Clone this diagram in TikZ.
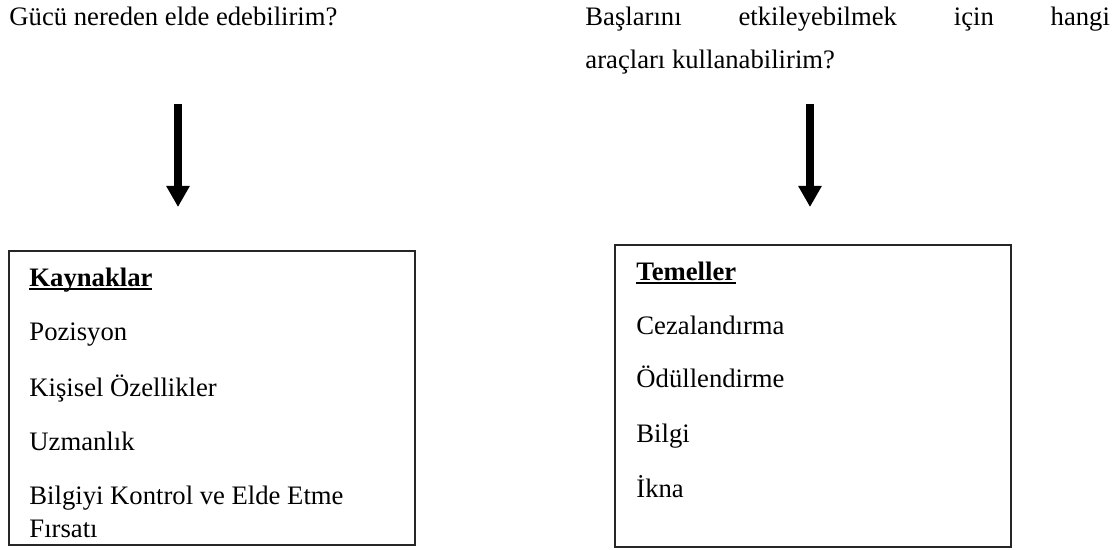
\documentclass[tikz,border=0pt]{standalone}
\usepackage{fontspec}
\setmainfont{Liberation Serif}
\usetikzlibrary{arrows.meta}

\newcommand{\ulhead}[1]{\setbox0\hbox{\textbf{#1}}\rlap{\rule[-1.8pt]{\wd0}{0.9pt}}\box0}

\begin{document}
\begin{tikzpicture}[
		x=0.45pt, y=-0.45pt,
		every node/.style={inner sep=0pt, anchor=base west, font=\fontsize{12}{15}\selectfont},
		frame/.style={draw=black!85, line width=0.8pt, anchor=north west},
		bigarrow/.style={line width=3.6pt, -{Triangle[length=9.5pt, width=10pt]}}
	]
  \useasboundingbox (0,0) rectangle (1117,549);

  \node (q1) at (9,25) {Gücü nereden elde edebilirim?};
  \node (q2a) at (585,25) {\makebox[236pt][s]{Başlarını etkileyebilmek için hangi}};
  \node (q2b) at (585,68) {araçları kullanabilirim?};

  \coordinate (a1s) at (178,104);
  \coordinate (a1e) at (178,207);
  \coordinate (a2s) at (810,104);
  \coordinate (a2e) at (810,207);

  \node (res) [frame, minimum width=406*0.45pt, minimum height=294*0.45pt] at (8,250) {};
  \node (bas) [frame, minimum width=396*0.45pt, minimum height=302*0.45pt] at (614,244) {};

  \node (res0) at (29,286) {\ulhead{Kaynaklar}};
  \node (res1) at (29,340) {Pozisyon};
  \node (res2) at (29,396) {Kişisel Özellikler};
  \node (res3) at (29,450) {Uzmanlık};
  \node (res4) at (29,504) {Bilgiyi Kontrol ve Elde Etme};
  \node (res4b) at (29,537) {Fırsatı};

  \node (bas0) at (636,280) {\ulhead{Temeller}};
  \node (bas1) at (636,334) {Cezalandırma};
  \node (bas2) at (636,387) {Ödüllendirme};
  \node (bas3) at (636,442) {Bilgi};
  \node (bas4) at (636,497) {İkna};

  \draw[bigarrow] (a1s) -- (a1e);
  \draw[bigarrow] (a2s) -- (a2e);
\end{tikzpicture}
\end{document}
